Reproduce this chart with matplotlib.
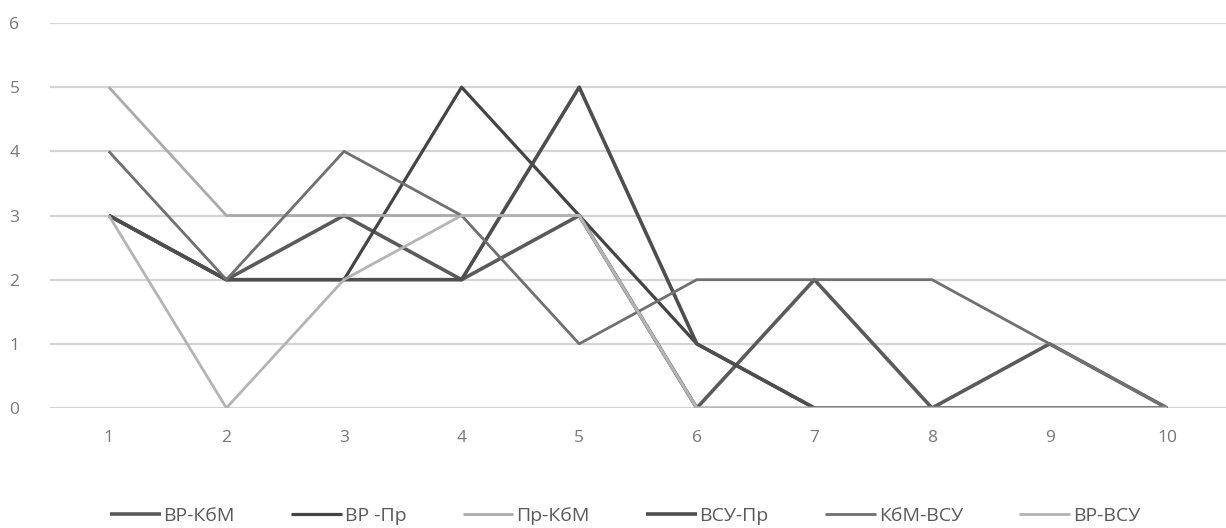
import matplotlib
matplotlib.use("Agg")
import matplotlib.pyplot as plt

plt.rcParams['font.family'] = ['Open Sans', 'DejaVu Sans']

categories = [1, 2, 3, 4, 5, 6, 7, 8, 9, 10]
series_names = ["ВР-КбМ", "ВР -Пр", "Пр-КбМ", "ВСУ-Пр", "КбМ-ВСУ", "ВР-ВСУ"]
vr_kbm = [3, 2, 3, 2, 3, 0, 2, 0, 1, 0]
vr_pr = [3, 2, 2, 5, 3, 1, 0, 0, 0, 0]
pr_kbm = [5, 3, 3, 3, 3, 0, 0, 0, 0, 0]
vsu_pr = [3, 2, 2, 2, 5, 1, 0, 0, 0, 0]
kbm_vsu = [4, 2, 4, 3, 1, 2, 2, 2, 1, 0]
vr_vsu = [3, 0, 2, 3, 3, 0, 0, 0, 0, 0]
series_values = [vr_kbm, vr_pr, pr_kbm, vsu_pr, kbm_vsu, vr_vsu]
y_ticks = [0, 1, 2, 3, 4, 5, 6]

colors = ["#5a5a5a", "#444444", "#aaaaaa", "#4e4e4e", "#707070", "#b4b4b4"]
widths = [2.6, 2.3, 2.0, 2.6, 2.0, 2.0]

fig = plt.figure(figsize=(12.26, 5.28), dpi=100)
ax = fig.add_axes([50/1226, 1 - 408/528, 1 - 50/1226, (408 - 23)/528])

x_idx = list(range(len(categories)))
for name, vals, c, lw in zip(series_names, series_values, colors, widths):
    ax.plot(x_idx, vals, color=c, lw=lw, label=name, solid_capstyle='butt')

ax.set_xlim(-0.5, len(categories) - 0.5)
ax.set_ylim(0, 6)
ax.set_yticks(y_ticks)
ax.set_yticklabels([str(t) for t in y_ticks])
ax.set_xticks(x_idx)
ax.set_xticklabels([str(c) for c in categories])
ax.yaxis.grid(True, color="#d4d4d4", lw=1.6)
ax.set_axisbelow(True)
for s in ax.spines.values():
    s.set_visible(False)
ax.tick_params(axis='both', length=0, colors="#777777", labelsize=12.5)
ax.tick_params(axis='y', pad=22)
ax.tick_params(axis='x', pad=16)

leg = fig.legend(loc='center', bbox_to_anchor=(625/1226, 1 - 516/528), ncol=6,
                 frameon=False, fontsize=14, handlelength=2.6, columnspacing=2.9,
                 handletextpad=0.15, labelcolor="#5a5a5a")

fig.savefig("out.png", dpi=100, facecolor="white")
